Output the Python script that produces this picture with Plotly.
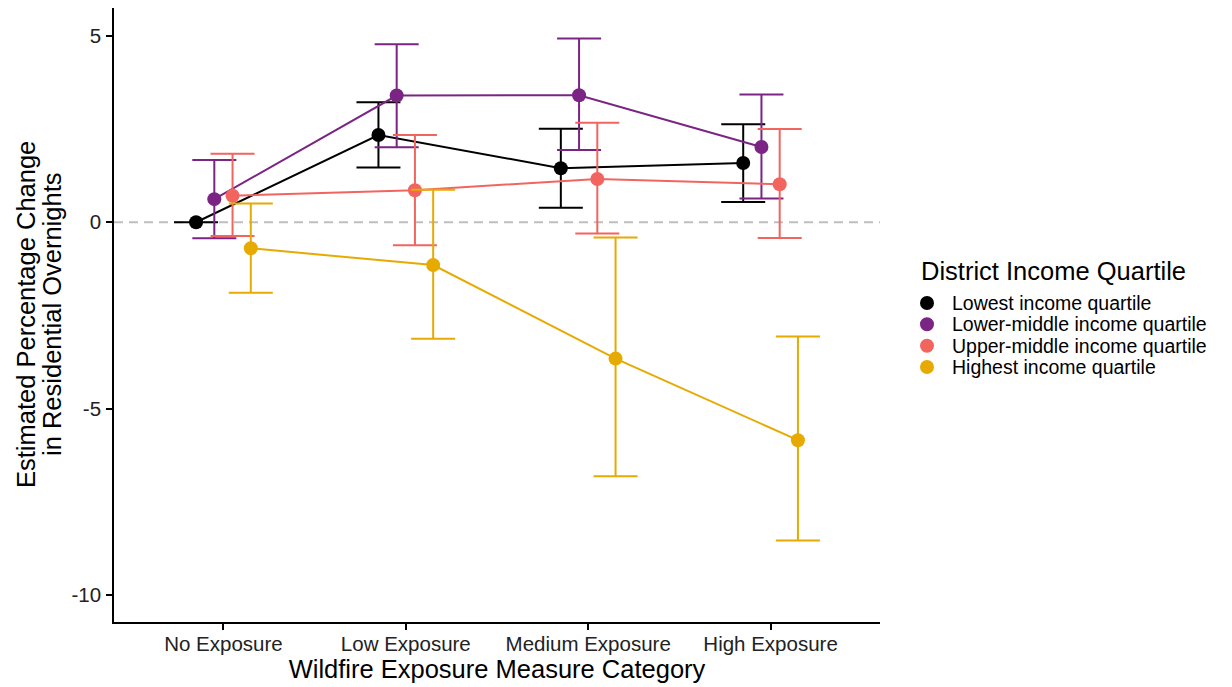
import plotly.graph_objects as go

categories = ["No Exposure", "Low Exposure", "Medium Exposure", "High Exposure"]
groups = ["Lowest income quartile", "Lower-middle income quartile",
          "Upper-middle income quartile", "Highest income quartile"]
colors = ["#000000", "#7A2584", "#F2655F", "#E6AA02"]

est_lowest = [0.0, 2.34, 1.45, 1.59]
lo_lowest = [0.0, 1.47, 0.39, 0.54]
hi_lowest = [0.0, 3.22, 2.51, 2.63]

est_lowmid = [0.62, 3.40, 3.41, 2.02]
lo_lowmid = [-0.43, 2.01, 1.94, 0.64]
hi_lowmid = [1.67, 4.78, 4.93, 3.43]

est_upmid = [0.71, 0.86, 1.16, 1.02]
lo_upmid = [-0.37, -0.62, -0.30, -0.42]
hi_upmid = [1.84, 2.34, 2.67, 2.50]

est_high = [-0.70, -1.15, -3.66, -5.85]
lo_high = [-1.89, -3.13, -6.82, -8.54]
hi_high = [0.50, 0.87, -0.41, -3.07]

series = [
    (est_lowest, lo_lowest, hi_lowest),
    (est_lowmid, lo_lowmid, hi_lowmid),
    (est_upmid, lo_upmid, hi_upmid),
    (est_high, lo_high, hi_high),
]

FONT = "Liberation Sans, Arial, sans-serif"
dodge = 0.4
n = len(groups)

fig = go.Figure()

# zero reference line
fig.add_shape(type="line", xref="paper", yref="y", x0=0, x1=1, y0=0, y1=0,
              line=dict(color="#BEBEBE", width=2, dash="9px,6px"), layer="below")

for g, (name, col, (est, lo, hi)) in enumerate(zip(groups, colors, series)):
    off = (g - (n - 1) / 2) * dodge / n
    xs = [i + 1 + off for i in range(len(categories))]
    fig.add_trace(go.Scatter(
        x=xs, y=est, mode="lines+markers", name=name, showlegend=False,
        line=dict(color=col, width=2),
        marker=dict(color=col, size=14),
        error_y=dict(type="data", symmetric=False,
                     array=[h - e for h, e in zip(hi, est)],
                     arrayminus=[e - l for e, l in zip(est, lo)],
                     color=col, thickness=2, width=22),
    ))

# page body has an 8px margin: figure occupies page pixels 8..1232 x 8..687
OFF = 8
W, H = 1232 - OFF, 687 - OFF
PL, PR, PT, PB = 114, 880, 8, 622          # plot area in page pixels
L, R, T, B = PL - OFF, W - (PR - OFF), PT - OFF, H - (PB - OFF)
pw, ph = W - L - R, H - T - B


def px_x(p):
    return (p - OFF - L) / pw


def px_y(p):
    return (H - B - (p - OFF)) / ph


# manual legend (ggplot style: points only)
fig.add_annotation(text="District Income Quartile", xref="paper", yref="paper",
                   x=px_x(919), y=px_y(271), xanchor="left", yanchor="middle",
                   showarrow=False, font=dict(family=FONT, size=25.5, color="#000000"))
row_y = [303, 324.3, 345.7, 367]
for name, col, ry in zip(groups, colors, row_y):
    fig.add_shape(type="circle", xref="paper", yref="paper",
                  xsizemode="pixel", ysizemode="pixel",
                  xanchor=px_x(927), yanchor=px_y(ry),
                  x0=-7, x1=7, y0=-7, y1=7,
                  fillcolor=col, line=dict(color=col, width=0))
    fig.add_annotation(text=name, xref="paper", yref="paper",
                       x=px_x(950), y=px_y(ry), xanchor="left", yanchor="middle",
                       showarrow=False, font=dict(family=FONT, size=19.5, color="#000000"))

# y axis title (two lines, ggplot spacing)
fig.add_annotation(text="Estimated Percentage Change", xref="paper", yref="paper",
                   x=px_x(26), y=0.5, xanchor="center", yanchor="middle", textangle=-90,
                   showarrow=False, font=dict(family=FONT, size=25.5, color="#000000"))
fig.add_annotation(text="in Residential Overnights", xref="paper", yref="paper",
                   x=px_x(52), y=0.5, xanchor="center", yanchor="middle", textangle=-90,
                   showarrow=False, font=dict(family=FONT, size=25.5, color="#000000"))

fig.update_layout(
    width=W, height=H,
    margin=dict(l=L, r=R, t=T, b=B, pad=0),
    plot_bgcolor="white", paper_bgcolor="white",
    showlegend=False,
    font=dict(family=FONT, color="#000000"),
    xaxis=dict(
        range=[0.4, 4.6], tickvals=[1, 2, 3, 4], ticktext=categories,
        showgrid=False, zeroline=False, showline=True, linecolor="black", linewidth=1.6,
        ticks="outside", ticklen=6, tickwidth=1.6, tickcolor="black",
        ticklabelstandoff=-3,
        tickfont=dict(family=FONT, size=20.5, color="#222222"),
        title=dict(text="Wildfire Exposure Measure Category",
                   font=dict(family=FONT, size=25.5, color="#000000"), standoff=4),
    ),
    yaxis=dict(
        range=[-10.73, 5.75], tickvals=[5, 0, -5, -10], ticktext=["5", "0", "-5", "-10"],
        showgrid=False, zeroline=False, showline=True, linecolor="black", linewidth=1.6,
        ticks="outside", ticklen=6, tickwidth=1.6, tickcolor="black",
        ticklabelstandoff=1,
        tickfont=dict(family=FONT, size=20.5, color="#222222"),
    ),
)

fig.write_html("out.html")
